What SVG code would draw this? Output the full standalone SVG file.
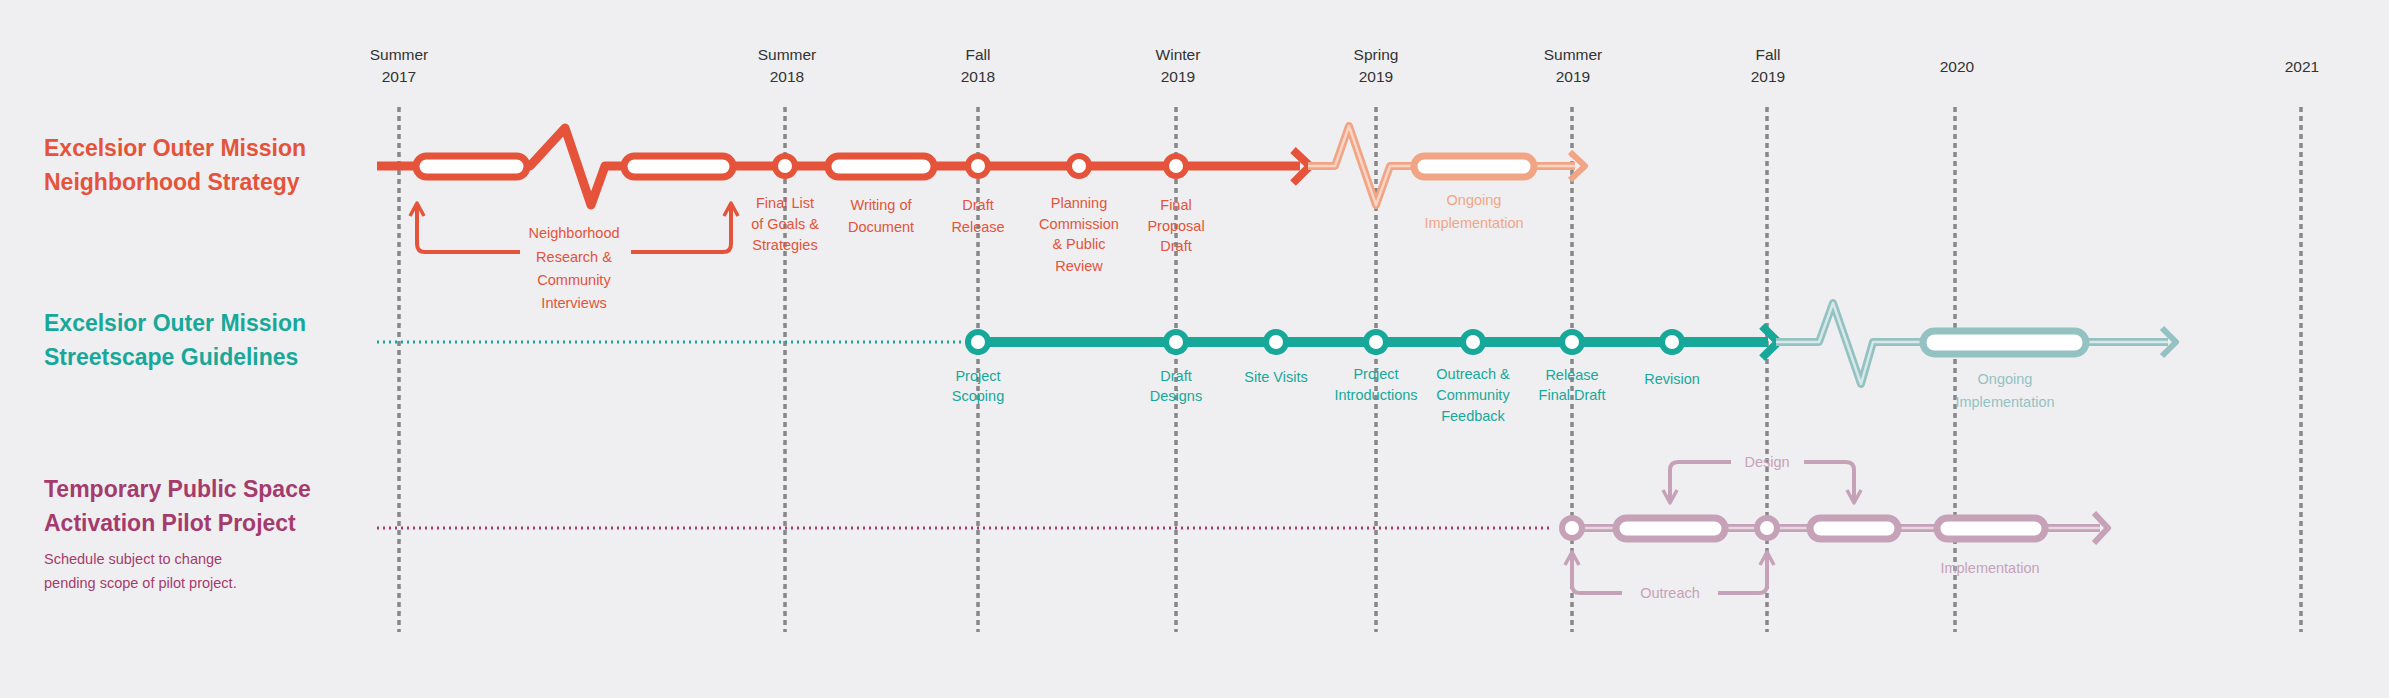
<svg xmlns="http://www.w3.org/2000/svg" width="2389" height="698" viewBox="0 0 2389 698">
<style>
text{font-family:"Liberation Sans",Arial,sans-serif;text-anchor:middle}
.m{font-size:15.5px;fill:#333}
.t{font-size:23px;font-weight:bold;text-anchor:start}
.l{font-size:14.5px}
.o{fill:#e4533a}.po{fill:#f2a585}.g{fill:#17a89a}.pg{fill:#94c2c2}.p{fill:#a53b6d}.pp{fill:#c6a2b8}
.v{stroke:#888;stroke-width:3.5;stroke-dasharray:5 4;fill:none}
.cap{fill:#fff;stroke-width:7}
.cir{fill:#fff;stroke-width:6}
</style>
<rect width="2389" height="698" fill="#efeff1"/>
<g id="grid">
<path class="v" d="M399 107V632M785 107V632M978 107V632M1176 107V632M1376 107V632M1572 107V632M1767 107V632M1955 107V632M2301 107V632"/>
<text class="m" x="399" y="60">Summer</text><text class="m" x="399" y="82">2017</text>
<text class="m" x="787" y="60">Summer</text><text class="m" x="787" y="82">2018</text>
<text class="m" x="978" y="60">Fall</text><text class="m" x="978" y="82">2018</text>
<text class="m" x="1178" y="60">Winter</text><text class="m" x="1178" y="82">2019</text>
<text class="m" x="1376" y="60">Spring</text><text class="m" x="1376" y="82">2019</text>
<text class="m" x="1573" y="60">Summer</text><text class="m" x="1573" y="82">2019</text>
<text class="m" x="1768" y="60">Fall</text><text class="m" x="1768" y="82">2019</text>
<text class="m" x="1957" y="72">2020</text>
<text class="m" x="2302" y="72">2021</text>
</g>
<g id="titles">
<text class="t o" x="44" y="156">Excelsior Outer Mission</text>
<text class="t o" x="44" y="190">Neighborhood Strategy</text>
<text class="t g" x="44" y="331">Excelsior Outer Mission</text>
<text class="t g" x="44" y="365">Streetscape Guidelines</text>
<text class="t p" x="44" y="497">Temporary Public Space</text>
<text class="t p" x="44" y="531">Activation Pilot Project</text>
<text class="l p" x="44" y="564" style="text-anchor:start">Schedule subject to change</text>
<text class="l p" x="44" y="588" style="text-anchor:start">pending scope of pilot project.</text>
</g>
<g id="connectors" fill="none" stroke-linejoin="round">
<!-- orange -->
<path d="M377 166H530L565 128L591 205L605 166H1300" stroke="#e4533a" stroke-width="9"/>
<path d="M1293 150L1310 166L1293 183" stroke="#e4533a" stroke-width="8"/>
<path d="M1308 166H1335L1349 126L1376 205L1390 166H1575" stroke="#f2a585" stroke-width="8"/>
<path d="M1308 166H1335L1349 126L1376 205L1390 166H1575" stroke="#f9d5c5" stroke-width="2.5"/>
<path d="M1570 152L1585 166L1570 180" stroke="#f2a585" stroke-width="6"/>
<path d="M417 207V244Q417 252 425 252H520M631 252H723Q731 252 731 244V207" stroke="#e4533a" stroke-width="4"/>
<path d="M410 216L417 203L424 216M724 216L731 203L738 216" stroke="#e4533a" stroke-width="3.5"/>
<!-- teal -->
<path d="M377 342H970" stroke="#17a89a" stroke-width="3" stroke-dasharray="2 4"/>
<path d="M978 342H1768" stroke="#17a89a" stroke-width="10"/>
<path d="M1762 326L1778 342L1762 358" stroke="#17a89a" stroke-width="8"/>
<path d="M1776 342H1819L1833 303L1861 384L1873 342H2168" stroke="#94c2c2" stroke-width="8"/>
<path d="M1776 342H1819L1833 303L1861 384L1873 342H2168" stroke="#d7e8e8" stroke-width="2.5"/>
<path d="M2162 328L2176 342L2162 356" stroke="#94c2c2" stroke-width="6"/>
<!-- purple -->
<path d="M377 528H1553" stroke="#a53b6d" stroke-width="3" stroke-dasharray="2 4"/>
<path d="M1572 528H2100" stroke="#c6a2b8" stroke-width="8"/>
<path d="M1572 528H2100" stroke="#e6d8e0" stroke-width="2.5"/>
<path d="M2094 513L2108 528L2094 543" stroke="#c6a2b8" stroke-width="6"/>
<path d="M1670 500V470Q1670 462 1678 462H1731M1804 462H1846Q1854 462 1854 470V500" stroke="#c6a2b8" stroke-width="4"/>
<path d="M1663 490L1670 503L1677 490M1847 490L1854 503L1861 490" stroke="#c6a2b8" stroke-width="3.5"/>
<path d="M1572 555V585Q1572 593 1580 593H1622M1718 593H1759Q1767 593 1767 585V555" stroke="#c6a2b8" stroke-width="4"/>
<path d="M1565 565L1572 552L1579 565M1760 565L1767 552L1774 565" stroke="#c6a2b8" stroke-width="3.5"/>
</g>
<g id="orange-nodes" stroke="#e4533a">
<rect class="cap" x="416" y="156" width="111" height="21" rx="10.5"/>
<rect class="cap" x="624" y="156" width="109" height="21" rx="10.5"/>
<circle class="cir" cx="785" cy="166" r="10"/>
<rect class="cap" x="828" y="156" width="106" height="21" rx="10.5"/>
<circle class="cir" cx="978" cy="166" r="10"/>
<circle class="cir" cx="1079" cy="166" r="10"/>
<circle class="cir" cx="1176" cy="166" r="10"/>
<rect class="cap" x="1414" y="156" width="120" height="21" rx="10.5" stroke="#f2a585"/>
</g>
<g id="orange-labels" class="l">
<text class="o" x="574" y="238">Neighborhood</text><text class="o" x="574" y="262">Research &amp;</text><text class="o" x="574" y="285">Community</text><text class="o" x="574" y="308">Interviews</text>
<text class="o" x="785" y="208">Final List</text><text class="o" x="785" y="229">of Goals &amp;</text><text class="o" x="785" y="250">Strategies</text>
<text class="o" x="881" y="210">Writing of</text><text class="o" x="881" y="232">Document</text>
<text class="o" x="978" y="210">Draft</text><text class="o" x="978" y="232">Release</text>
<text class="o" x="1079" y="208">Planning</text><text class="o" x="1079" y="229">Commission</text><text class="o" x="1079" y="249">&amp; Public</text><text class="o" x="1079" y="271">Review</text>
<text class="o" x="1176" y="210">Final</text><text class="o" x="1176" y="231">Proposal</text><text class="o" x="1176" y="251">Draft</text>
<text class="po" x="1474" y="205">Ongoing</text><text class="po" x="1474" y="228">Implementation</text>
</g>
<g id="teal-nodes" stroke="#17a89a">
<circle class="cir" cx="978" cy="342" r="10"/>
<circle class="cir" cx="1176" cy="342" r="10"/>
<circle class="cir" cx="1276" cy="342" r="10"/>
<circle class="cir" cx="1376" cy="342" r="10"/>
<circle class="cir" cx="1473" cy="342" r="10"/>
<circle class="cir" cx="1572" cy="342" r="10"/>
<circle class="cir" cx="1672" cy="342" r="10"/>
<rect class="cap" x="1923" y="331" width="163" height="23" rx="11.5" stroke="#94c2c2"/>
</g>
<g id="teal-labels" class="l">
<text class="g" x="978" y="381">Project</text><text class="g" x="978" y="401">Scoping</text>
<text class="g" x="1176" y="381">Draft</text><text class="g" x="1176" y="401">Designs</text>
<text class="g" x="1276" y="382">Site Visits</text>
<text class="g" x="1376" y="379">Project</text><text class="g" x="1376" y="400">Introductions</text>
<text class="g" x="1473" y="379">Outreach &amp;</text><text class="g" x="1473" y="400">Community</text><text class="g" x="1473" y="421">Feedback</text>
<text class="g" x="1572" y="380">Release</text><text class="g" x="1572" y="400">Final Draft</text>
<text class="g" x="1672" y="384">Revision</text>
<text class="pg" x="2005" y="384">Ongoing</text><text class="pg" x="2005" y="407">Implementation</text>
</g>
<g id="purple-nodes" stroke="#c6a2b8">
<circle class="cir" cx="1572" cy="528" r="10"/>
<rect class="cap" x="1616" y="518" width="109" height="21" rx="10.5"/>
<circle class="cir" cx="1767" cy="528" r="10"/>
<rect class="cap" x="1810" y="518" width="88" height="21" rx="10.5"/>
<rect class="cap" x="1937" y="518" width="108" height="21" rx="10.5"/>
</g>
<g id="purple-labels" class="l">
<text class="pp" x="1767" y="467">Design</text>
<text class="pp" x="1670" y="598">Outreach</text>
<text class="pp" x="1990" y="573">Implementation</text>
</g>
</svg>
